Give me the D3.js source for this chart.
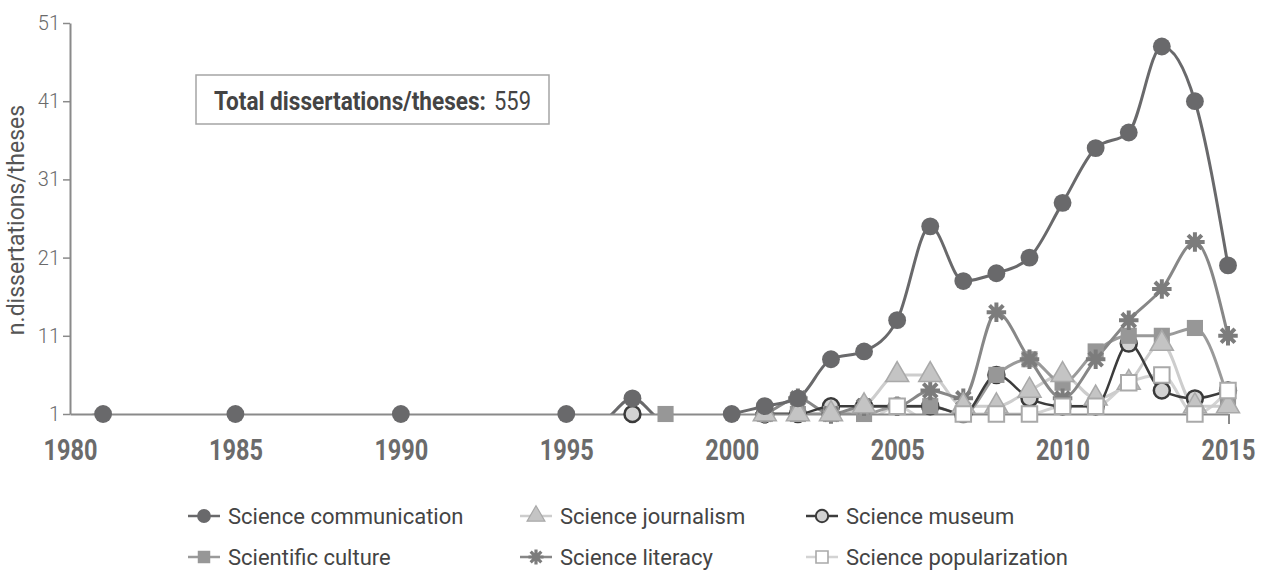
<!DOCTYPE html>
<html>
<head>
<meta charset="utf-8">
<script src="https://cdn.jsdelivr.net/npm/d3@7"></script>
<style>
  body { margin: 0; background: #fff; }
  svg { display: block; }
  text { font-family: Roboto, "Liberation Sans", sans-serif; }
</style>
</head>
<body>
<svg id="chart" width="1261" height="571"></svg>
<script>
// years 1980..2015, 0 = none (plotted below the axis, clipped away)
var years = d3.range(1980, 2016);

var sciCommunication = [0,1,0,0,0,1,0,0,0,0, 1,0,0,0,0,1,0,3,0,0, 1,2,3,8,9,13,25,18,19,21, 28,35,37,48,41,20];
var sciJournalism    = [0,0,0,0,0,0,0,0,0,0, 0,0,0,0,0,0,0,0,0,0, 0,1,1,1,2,6,6,2,2,4, 6,3,5,10,2,2];
var sciMuseum        = [0,0,0,0,0,0,0,0,0,0, 0,0,0,0,0,0,0,1,0,0, 0,1,1,2,2,2,2,1,6,3, 2,2,10,4,3,4];
var sciCulture       = [0,0,0,0,0,0,0,0,0,0, 0,0,0,0,0,0,0,0,1,0, 0,1,1,1,1,2,2,1,6,8, 5,9,11,11,12,3];
var sciLiteracy      = [0,0,0,0,0,0,0,0,0,0, 0,0,0,0,0,0,0,0,0,0, 0,1,3,1,2,2,4,3,14,8, 3,8,13,17,23,11];
var sciPopularization= [0,0,0,0,0,0,0,0,0,0, 0,0,0,0,0,0,0,0,0,0, 0,0,0,0,0,2,0,1,1,1, 2,2,5,6,1,4];

var yTicks = [1, 11, 21, 31, 41, 51];
var xTicks = [1980, 1985, 1990, 1995, 2000, 2005, 2010, 2015];
var totalLabel = "Total dissertations/theses:";
var totalValue = "559";

// custom asterisk-like star
var symbolStar = {
  draw: function(ctx, size) {
    var r = Math.sqrt(size) / 2;
    for (var i = 0; i < 4; i++) {
      var a = i * Math.PI / 4;
      ctx.moveTo(r * Math.cos(a), r * Math.sin(a));
      ctx.lineTo(-r * Math.cos(a), -r * Math.sin(a));
    }
  }
};

var series = [
  { name: "Science communication", values: sciCommunication, line: "#69696b", lw: 3, sym: d3.symbolCircle, size: 250, fill: "#69696b", stroke: "none", sw: 0 },
  { name: "Science journalism", values: sciJournalism, line: "#cdcdcd", lw: 3, sym: d3.symbolTriangle, size: 230, fill: "#c4c4c4", stroke: "#a9a9a9", sw: 1.5 },
  { name: "Science museum", values: sciMuseum, line: "#3c3c3c", lw: 2.5, sym: d3.symbolCircle, size: 200, fill: "#d2d2d2", stroke: "#3a3a3a", sw: 2.5 },
  { name: "Scientific culture", values: sciCulture, line: "#9a9a9a", lw: 3, sym: d3.symbolSquare, size: 260, fill: "#979797", stroke: "none", sw: 0 },
  { name: "Science literacy", values: sciLiteracy, line: "#878787", lw: 3, sym: symbolStar, size: 380, fill: "none", stroke: "#7c7c7c", sw: 4 },
  { name: "Science popularization", values: sciPopularization, line: "#d3d3d3", lw: 3, sym: d3.symbolSquare, size: 240, fill: "#fff", stroke: "#a9a9a9", sw: 2 }
];

// squeeze a text horizontally to a given width (condensed look)
function squeeze(sel, width) {
  sel.each(function() {
    var t = d3.select(this);
    var k = width / this.getComputedTextLength();
    var x0 = +t.attr("x") || 0;
    t.attr("transform", "translate(" + x0 + ",0) scale(" + k + ",1) translate(" + (-x0) + ",0)");
  });
}

var svg = d3.select("#chart");
var x = d3.scaleLinear().domain([1980, 2015]).range([70, 1228]);
var y = d3.scaleLinear().domain([1, 51]).range([414, 23]);

svg.append("defs").append("clipPath").attr("id", "plot")
  .append("rect").attr("x", 70).attr("y", 0).attr("width", 1180).attr("height", 414);

// lines
var line = d3.line()
  .curve(d3.curveMonotoneX)
  .x(function(d, i) { return x(years[i]); })
  .y(function(d) { return y(d); });

var linesG = svg.append("g").attr("clip-path", "url(#plot)");
[5, 1, 3, 4, 2, 0].forEach(function(k) {
  var s = series[k];
  linesG.append("path")
    .datum(s.values)
    .attr("fill", "none")
    .attr("stroke", s.line)
    .attr("stroke-width", s.lw)
    .attr("d", line);
});

// axes
var xAxis = svg.append("g")
  .attr("transform", "translate(0,414)")
  .call(d3.axisBottom(x).tickValues(xTicks).tickFormat(d3.format("d")).tickSize(0).tickPadding(25));
xAxis.select(".domain").attr("stroke", "#8a8a8a").attr("stroke-width", 2);
xAxis.selectAll("text")
  .attr("font-size", 29).attr("font-weight", "bold").attr("fill", "#6b6b6b")
  .call(squeeze, 54);
svg.append("line").attr("x1", 1229).attr("x2", 1229).attr("y1", 414).attr("y2", 424)
  .attr("stroke", "#8a8a8a").attr("stroke-width", 2);

var yAxis = svg.append("g")
  .attr("transform", "translate(70,0)")
  .call(d3.axisLeft(y).tickValues(yTicks).tickSize(7).tickSizeOuter(0).tickPadding(3));
yAxis.select(".domain").attr("stroke", "#8a8a8a").attr("stroke-width", 2);
yAxis.selectAll(".tick line").attr("stroke", "#8a8a8a").attr("stroke-width", 1.5);
yAxis.selectAll("text")
  .attr("font-size", 20).attr("font-weight", 300).attr("fill", "#6a6a6a");

svg.append("text")
  .attr("transform", "translate(24,220) rotate(-90)")
  .attr("text-anchor", "middle")
  .attr("font-size", 23).attr("fill", "#555")
  .text("n.dissertations/theses");

// markers
var markG = svg.append("g");
[2, 3, 4, 1, 5, 0].forEach(function(k) {
  var s = series[k];
  markG.selectAll(null)
    .data(s.values.map(function(v, i) { return { year: years[i], v: v }; }).filter(function(d) { return d.v > 0; }))
    .enter().append("path")
    .attr("transform", function(d) { return "translate(" + x(d.year) + "," + y(d.v) + ")"; })
    .attr("d", d3.symbol().type(s.sym).size(s.size))
    .attr("fill", s.fill)
    .attr("stroke", s.stroke)
    .attr("stroke-width", s.sw);
});

// total box
svg.append("rect")
  .attr("x", 196).attr("y", 75).attr("width", 353).attr("height", 49)
  .attr("fill", "#fff").attr("stroke", "#a5a5a5").attr("stroke-width", 1.5);
svg.append("text")
  .attr("x", 214).attr("y", 110)
  .attr("font-size", 25).attr("font-weight", "bold").attr("fill", "#444")
  .text(totalLabel)
  .call(squeeze, 272);
svg.append("text")
  .attr("x", 494).attr("y", 110)
  .attr("font-size", 25).attr("fill", "#444")
  .text(totalValue)
  .call(squeeze, 37);

// legend
var legX = [188, 520, 806], legY = [516, 557];
series.forEach(function(s, i) {
  var g = svg.append("g")
    .attr("transform", "translate(" + legX[i % 3] + "," + legY[Math.floor(i / 3)] + ")");
  g.append("line").attr("x1", 0).attr("x2", 32).attr("stroke", s.line).attr("stroke-width", 2.5);
  g.append("path")
    .attr("transform", "translate(16,0)")
    .attr("d", d3.symbol().type(s.sym).size(s.size * 0.6))
    .attr("fill", s.fill).attr("stroke", s.stroke).attr("stroke-width", s.sw * 0.8);
  g.append("text")
    .attr("x", 40).attr("y", 8)
    .attr("font-size", 22).attr("fill", "#444")
    .text(s.name);
});
</script>
</body>
</html>
